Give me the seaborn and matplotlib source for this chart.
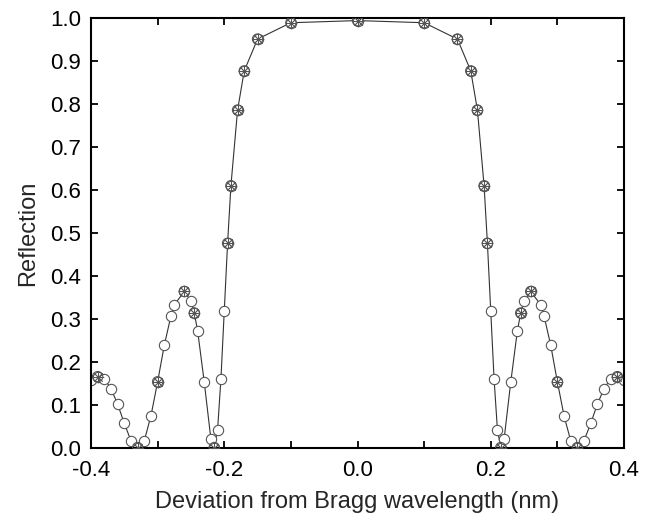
import numpy as np
import pandas as pd
import matplotlib
matplotlib.use("Agg")
import matplotlib.pyplot as plt
from matplotlib.ticker import MultipleLocator, FormatStrFormatter
import seaborn as sns

# Left half of the (symmetric) spectrum
x_left = [-0.40, -0.39, -0.38, -0.37, -0.36, -0.35, -0.34, -0.33, -0.32, -0.31,
          -0.30, -0.29, -0.28, -0.275, -0.26, -0.25, -0.245, -0.24, -0.23, -0.22,
          -0.215, -0.21, -0.205, -0.20, -0.195, -0.19, -0.18, -0.17, -0.15, -0.10]
r_left = [0.158, 0.166, 0.161, 0.138, 0.102, 0.057, 0.017, 0.001, 0.017, 0.075,
          0.154, 0.239, 0.307, 0.333, 0.364, 0.342, 0.314, 0.273, 0.153, 0.020,
          0.001, 0.043, 0.160, 0.318, 0.476, 0.610, 0.786, 0.877, 0.951, 0.989]
r_center = 0.994

x_vals = x_left + [0.0] + [-v for v in reversed(x_left)]
refl = r_left + [r_center] + list(reversed(r_left))

# Points also marked by the second (asterisk) series
star_left = [-0.39, -0.33, -0.30, -0.26, -0.245, -0.215, -0.195, -0.19, -0.18,
             -0.17, -0.15, -0.10]
star_x = star_left + [0.0] + [-v for v in reversed(star_left)]
lookup = dict(zip(x_vals, refl))
star_r = [lookup[v] for v in star_x]

df = pd.DataFrame({"x": x_vals, "r": refl})
ds = pd.DataFrame({"x": star_x, "r": star_r})

sns.set_style("ticks")
plt.rcParams["font.family"] = ["Liberation Sans", "DejaVu Sans"]

fig = plt.figure(figsize=(6.5, 5.23), dpi=100)
ax = fig.add_axes([91 / 650, 1 - 448 / 523, (624 - 91) / 650, (448 - 18) / 523])

sns.lineplot(data=df, x="x", y="r", ax=ax, color="#333333", linewidth=0.8,
             sort=True, estimator=None, zorder=1)
sns.scatterplot(data=df, x="x", y="r", ax=ax, marker="o", s=55,
                facecolor="white", edgecolor="#555555", linewidth=0.8, zorder=2)
sns.scatterplot(data=ds, x="x", y="r", ax=ax, marker=(8, 2, 0), s=60,
                color="#555555", edgecolor="#555555", linewidth=0.6, zorder=3)
sns.scatterplot(data=ds, x="x", y="r", ax=ax, marker="o", s=55,
                facecolor="none", edgecolor="#555555", linewidth=0.8, zorder=3)

ax.set_xlim(-0.4, 0.4)
ax.set_ylim(0.0, 1.0)
ax.xaxis.set_major_locator(MultipleLocator(0.2))
ax.xaxis.set_minor_locator(MultipleLocator(0.1))
ax.yaxis.set_major_locator(MultipleLocator(0.1))
ax.xaxis.set_major_formatter(FormatStrFormatter("%.1f"))
ax.yaxis.set_major_formatter(FormatStrFormatter("%.1f"))
ax.tick_params(which="both", direction="in", top=True, right=True,
               width=1.3, length=5, labelsize=16, colors="black")
ax.tick_params(axis="x", which="both", pad=9)
ax.tick_params(axis="y", which="both", pad=7)
for s in ax.spines.values():
    s.set_linewidth(1.5)
    s.set_color("black")
    s.set_visible(True)

ax.set_xlabel("Deviation from Bragg wavelength (nm)", fontsize=17, labelpad=7)
ax.set_ylabel("Reflection", fontsize=17, labelpad=8)

fig.savefig("out.png", dpi=100, facecolor="white")
